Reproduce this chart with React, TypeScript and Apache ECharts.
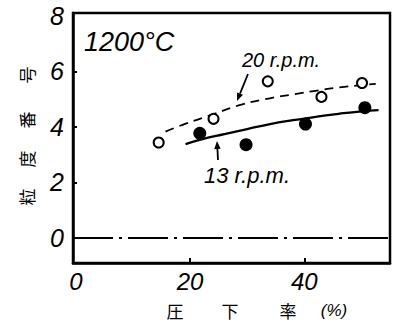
import React, { useEffect, useRef } from "react";
import * as echarts from "echarts";

// 20 r.p.m. measured points (open circles)
const rpm20Points: number[][] = [
  [14.5, 3.44], [24.1, 4.29], [33.6, 5.64], [43.0, 5.08], [50.1, 5.58],
];
// 13 r.p.m. measured points (filled circles)
const rpm13Points: number[][] = [
  [21.7, 3.77], [29.8, 3.36], [40.2, 4.1], [50.6, 4.69],
];
// fitted curve for 20 r.p.m. (dashed)
const rpm20Curve: number[][] = [
  [15.7, 3.83], [19, 4.1], [24, 4.45], [29, 4.8], [34, 5.03], [38, 5.17],
  [42, 5.3], [46, 5.42], [50, 5.5], [52.5, 5.55],
];
// fitted curve for 13 r.p.m. (solid)
const rpm13Curve: number[][] = [
  [19.2, 3.38], [22, 3.55], [26, 3.74], [30, 3.92], [34, 4.1], [38, 4.24],
  [42, 4.36], [46, 4.47], [50, 4.56], [53, 4.6],
];
// reference line at grain size 0
const zeroLine: number[][] = [[-0.5, 0], [55, 0]];
const xTickLabels = [0, 20, 40];
const xTicks = [20, 40];
const yTickLabels = [0, 2, 4, 6, 8];
const yTicks = [2, 4, 6];
const yTitleChars = ["粒", "度", "番", "号"];
const xTitleParts = ["圧", "下", "率", "(%)"];

function arrow(x1: number, y1: number, x2: number, y2: number) {
  const ang = Math.atan2(y2 - y1, x2 - x1);
  const L = 8, W = 3.2;
  const bx = x2 - L * Math.cos(ang), by = y2 - L * Math.sin(ang);
  const px = -Math.sin(ang) * W, py = Math.cos(ang) * W;
  return [
    { type: "line", shape: { x1, y1, x2: bx, y2: by }, style: { stroke: "#000", lineWidth: 1.8 } },
    {
      type: "polygon",
      shape: { points: [[x2, y2], [bx + px, by + py], [bx - px, by - py]] },
      style: { fill: "#000" },
    },
  ];
}

export default function App() {
  const ref = useRef<HTMLDivElement>(null);
  useEffect(() => {
    if (!ref.current) return;
    const chart = echarts.init(ref.current, undefined, { renderer: "svg" });
    const labelFont = { fontFamily: "Liberation Sans", fontStyle: "italic" as const, color: "#000" };
    const yPos = [197, 159, 120, 75];
    const xPos = [175, 230, 288, 334];
    chart.setOption({
      animation: false,
      backgroundColor: "#fff",
      grid: { left: 73, right: 8, top: 13, bottom: 59, show: true, borderColor: "#000", borderWidth: 2.5 },
      xAxis: {
        type: "value", min: -0.5, max: 55,
        axisLine: { show: true, onZero: false, lineStyle: { color: "#000", width: 2.5 } },
        axisTick: { show: true, inside: true, length: 5, customValues: xTicks, lineStyle: { color: "#000", width: 2 } },
        axisLabel: { ...labelFont, fontSize: 24, margin: 6, customValues: xTickLabels },
        splitLine: { show: false },
      },
      yAxis: {
        type: "value", min: -0.9, max: 8.1,
        axisLine: { show: true, onZero: false, lineStyle: { color: "#000", width: 2.5 } },
        axisTick: { show: true, inside: true, length: 4, customValues: yTicks, lineStyle: { color: "#000", width: 2 } },
        axisLabel: { ...labelFont, fontSize: 25, margin: 9, customValues: yTickLabels },
        splitLine: { show: false },
      },
      series: [
        {
          type: "line", data: zeroLine, showSymbol: false, symbol: "none",
          lineStyle: { color: "#000", width: 1.8, type: [40, 6, 3, 6] }, z: 1,
        },
        {
          type: "line", data: rpm20Curve, smooth: true, showSymbol: false, symbol: "none",
          lineStyle: { color: "#000", width: 1.8, type: [9, 6] }, z: 2,
        },
        {
          type: "line", data: rpm13Curve, smooth: true, showSymbol: false, symbol: "none",
          lineStyle: { color: "#000", width: 2.3, type: "solid" }, z: 2,
        },
        {
          type: "scatter", data: rpm20Points, symbol: "circle", symbolSize: 10,
          itemStyle: { color: "#fff", borderColor: "#000", borderWidth: 2, opacity: 1 }, z: 3,
        },
        {
          type: "scatter", data: rpm13Points, symbol: "circle", symbolSize: 13,
          itemStyle: { color: "#000", opacity: 1 }, z: 3,
        },
      ],
      graphic: [
        { type: "text", x: 84, y: 42, style: { text: "1200°C", ...labelFont, fill: "#000", fontSize: 27, textVerticalAlign: "middle" } },
        { type: "text", x: 242, y: 60, style: { text: "20 r.p.m.", ...labelFont, fill: "#000", fontSize: 20, textVerticalAlign: "middle" } },
        { type: "text", x: 204, y: 175, style: { text: "13 r.p.m.", ...labelFont, fill: "#000", fontSize: 22, textVerticalAlign: "middle" } },
        ...arrow(248, 74, 237, 101),
        ...arrow(218, 160, 217, 141),
        ...yTitleChars.map((c, i) => ({
          type: "text", x: 26, y: yPos[i], rotation: Math.PI / 2,
          style: { text: c, fontFamily: "Noto Sans CJK JP", fontSize: 17, fill: "#000", textAlign: "center", textVerticalAlign: "middle" },
        })),
        ...xTitleParts.map((c, i) => ({
          type: "text", x: xPos[i], y: 310,
          style: {
            text: c, fontFamily: i === 3 ? "Liberation Sans" : "Noto Sans CJK JP",
            fontStyle: i === 3 ? "italic" : "normal", fontSize: 17, fill: "#000",
            textAlign: "center", textVerticalAlign: "middle",
          },
        })),
      ],
    });
    return () => chart.dispose();
  }, []);
  return <div ref={ref} style={{ position: "fixed", left: 0, top: 0, width: 398, height: 322 }} />;
}
